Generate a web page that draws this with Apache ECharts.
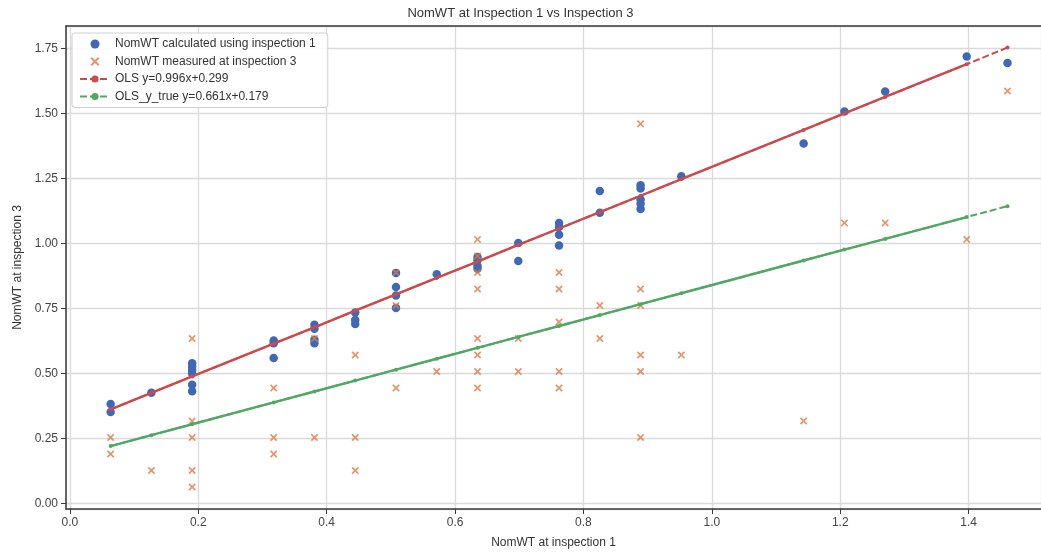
<!DOCTYPE html>
<html><head><meta charset="utf-8">
<script src="https://cdn.jsdelivr.net/npm/echarts@6/dist/echarts.min.js"></script>
<style>html,body{margin:0;padding:0;background:#fff;overflow:hidden}#c{width:1041px;height:554px}</style>
</head><body><div id="c"></div><script>
// NomWT calculated using inspection 1 (blue dots)
const calcX = [0.0635,0.0635, 0.127, 0.1905,0.1905,0.1905,0.1905,0.1905,0.1905,
  0.3175,0.3175,0.3175, 0.381,0.381,0.381,0.381, 0.4445,0.4445,0.4445,
  0.508,0.508,0.508,0.508, 0.5715, 0.635,0.635,0.635,0.635, 0.6985,0.6985,
  0.762,0.762,0.762,0.762, 0.8255,0.8255, 0.889,0.889,0.889,0.889,0.889,
  0.9525, 1.143, 1.2065, 1.27, 1.397, 1.4605];
const calcY = [0.383,0.352, 0.426, 0.540,0.527,0.514,0.500,0.457,0.432,
  0.627,0.617,0.560, 0.688,0.672,0.630,0.617, 0.735,0.706,0.691,
  0.887,0.833,0.800,0.752, 0.882, 0.948,0.936,0.914,0.903, 1.002,0.933,
  1.079,1.064,1.034,0.993, 1.202,1.119, 1.224,1.212,1.170,1.153,1.133,
  1.259, 1.385, 1.508, 1.585, 1.720, 1.695];
// NomWT measured at inspection 3 (orange crosses)
const measX = [0.0635,0.0635, 0.127, 0.1905,0.1905,0.1905,0.1905,0.1905,
  0.3175,0.3175,0.3175, 0.381,0.381, 0.4445,0.4445,0.4445, 0.508,0.508,0.508,
  0.5715, 0.635,0.635,0.635,0.635,0.635,0.635,0.635,0.635, 0.6985,0.6985,
  0.762,0.762,0.762,0.762,0.762, 0.8255,0.8255, 0.889,0.889,0.889,0.889,0.889,0.889,
  0.9525, 1.143, 1.2065, 1.27, 1.397, 1.4605];
const measY = [0.254,0.1905, 0.127, 0.635,0.3175,0.254,0.127,0.0635,
  0.4445,0.254,0.1905, 0.635,0.254, 0.5715,0.254,0.127, 0.889,0.762,0.4445,
  0.508, 1.016,0.9525,0.889,0.8255,0.635,0.5715,0.508,0.4445, 0.635,0.508,
  0.889,0.8255,0.6985,0.508,0.4445, 0.762,0.635, 1.4605,0.8255,0.762,0.5715,0.508,0.254,
  0.5715, 0.3175, 1.0795, 1.0795, 1.016, 1.587];
// Fitted lines
const fitX = [0.0635,0.127,0.1905,0.3175,0.381,0.4445,0.508,0.5715,0.635,0.6985,
  0.762,0.8255,0.889,0.9525,1.143,1.2065,1.27,1.397,1.4605];
const olsY = [0.362,0.426,0.489,0.615,0.678,0.742,0.805,0.868,0.931,0.995,
  1.058,1.121,1.184,1.248,1.437,1.501,1.564,1.690,1.754];
const olsTrueY = [0.221,0.263,0.305,0.389,0.431,0.473,0.515,0.557,0.599,0.641,
  0.683,0.725,0.767,0.809,0.935,0.977,1.018,1.102,1.144];
const names = ['NomWT calculated using inspection 1','NomWT measured at inspection 3',
  'OLS y=0.996x+0.299','OLS_y_true y=0.661x+0.179'];
const titleText = 'NomWT at Inspection 1 vs Inspection 3';
const xName = 'NomWT at inspection 1', yName = 'NomWT at inspection 3';

const C_BLUE = '#3f69b3', C_ORANGE = '#e07b45', C_RED = '#cc4a4e', C_GREEN = '#52a765';
const FONT = 'Liberation Sans, Arial, sans-serif';
const XSYM = 'path://M1.6,0L5,3.4L8.4,0L10,1.6L6.6,5L10,8.4L8.4,10L5,6.6L1.6,10L0,8.4L3.4,5L0,1.6Z';
const zip = (a, b) => a.map((v, i) => [v, b[i]]);
const nSolid = fitX.length - 1;

const chart = echarts.init(document.getElementById('c'), null, {renderer: 'canvas'});
const axisLbl = {color: '#444', fontSize: 12, fontFamily: FONT};
const X_MIN = -0.006, X_MAX = 1.5127;
chart.setOption({
  animation: false,
  backgroundColor: '#fff',
  title: {text: titleText, left: 'center', top: 7, padding: [0, 0, 0, 74],
    textStyle: {fontSize: 13, fontWeight: 'normal', color: '#333', fontFamily: FONT}},
  grid: {left: 66, right: -3, top: 26, bottom: 42, containLabel: false},
  legend: {
    orient: 'vertical', left: 72, top: 33, padding: [5, 12, 5, 7],
    itemWidth: 30, itemHeight: 9, itemGap: 5.5,
    backgroundColor: 'rgba(255,255,255,0.85)', borderColor: '#d0d0d0', borderWidth: 1, borderRadius: 3,
    textStyle: {fontSize: 12, color: '#333', fontFamily: FONT},
    data: names
  },
  xAxis: [{
    type: 'value', min: X_MIN, max: X_MAX, minInterval: 0.2, maxInterval: 0.2,
    name: xName, nameLocation: 'middle', nameGap: 28,
    nameTextStyle: {fontSize: 12, color: '#333', fontFamily: FONT},
    axisLine: {show: true, onZero: false, lineStyle: {color: '#3a3a3a', width: 1.5}},
    axisTick: {show: true, length: 5, lineStyle: {color: '#3a3a3a'}},
    axisLabel: Object.assign({formatter: v => v.toFixed(1), margin: 8, showMinLabel: false, showMaxLabel: false}, axisLbl),
    splitLine: {show: true, lineStyle: {color: '#dadada', width: 1.3}}
  }, {
    type: 'value', position: 'top', min: X_MIN, max: X_MAX,
    axisLine: {show: true, onZero: false, lineStyle: {color: '#3a3a3a', width: 1.5}},
    axisTick: {show: false}, axisLabel: {show: false}, splitLine: {show: false}
  }],
  yAxis: {
    type: 'value', min: -0.021, max: 1.837, minInterval: 0.25, maxInterval: 0.25,
    name: yName, nameLocation: 'middle', nameGap: 40,
    nameTextStyle: {fontSize: 12, color: '#333', fontFamily: FONT},
    axisLine: {show: true, onZero: false, lineStyle: {color: '#3a3a3a', width: 1.5}},
    axisTick: {show: true, length: 5, lineStyle: {color: '#3a3a3a'}},
    axisLabel: Object.assign({formatter: v => v.toFixed(2), margin: 8, showMinLabel: false, showMaxLabel: false}, axisLbl),
    splitLine: {show: true, lineStyle: {color: '#dadada', width: 1.3}}
  },
  series: [
    {name: names[0], type: 'scatter', data: zip(calcX, calcY), symbol: 'circle', symbolSize: 8.5,
      itemStyle: {color: C_BLUE, opacity: 1}},
    {name: names[1], type: 'scatter', data: zip(measX, measY), symbol: XSYM, symbolSize: 7.5,
      itemStyle: {color: C_ORANGE}},
    {name: names[2], type: 'line', data: zip(fitX, olsY), symbol: 'circle', symbolSize: 4, showSymbol: true,
      lineStyle: {color: C_RED, width: 2, type: [7, 3]}, itemStyle: {color: C_RED}},
    {name: names[2], type: 'line', data: zip(fitX.slice(0, nSolid), olsY.slice(0, nSolid)), showSymbol: false,
      lineStyle: {color: C_RED, width: 2.4}, itemStyle: {color: C_RED}},
    {name: names[3], type: 'line', data: zip(fitX, olsTrueY), symbol: 'circle', symbolSize: 4, showSymbol: true,
      lineStyle: {color: C_GREEN, width: 2, type: [7, 3]}, itemStyle: {color: C_GREEN}},
    {name: names[3], type: 'line', data: zip(fitX.slice(0, nSolid), olsTrueY.slice(0, nSolid)), showSymbol: false,
      lineStyle: {color: C_GREEN, width: 2.4}, itemStyle: {color: C_GREEN}}
  ]
});
</script></body></html>
